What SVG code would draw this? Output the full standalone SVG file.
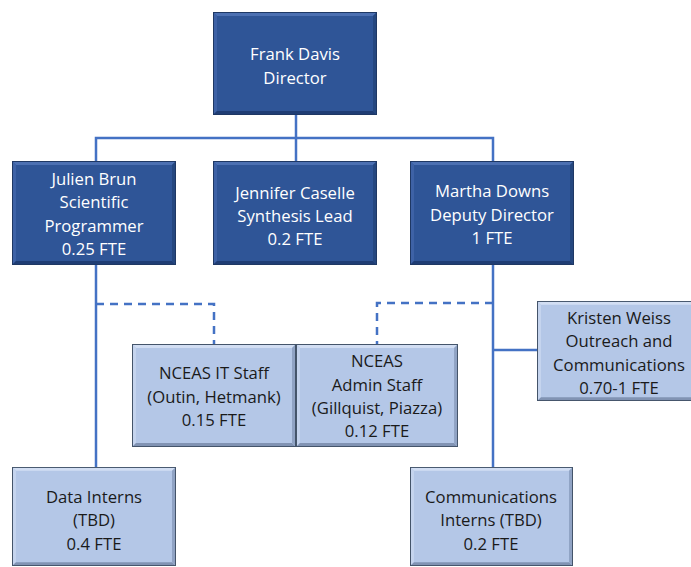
<svg xmlns="http://www.w3.org/2000/svg" xmlns:xlink="http://www.w3.org/1999/xlink" width="691" height="567" viewBox="0 0 691 567">
<style>
.ln{fill:none;stroke:#4472C4;stroke-width:2.5}
.ds{stroke-dasharray:8 6}
.tw{font-family:"Open Sans","Liberation Sans",sans-serif;font-size:16.7px;fill:#ffffff;text-anchor:middle}
.tb{font-family:"Open Sans","Liberation Sans",sans-serif;font-size:16.7px;fill:#1a1a1a;text-anchor:middle}
</style>
<defs>
<symbol id="dbox" viewBox="0 0 164 104" preserveAspectRatio="none">
<rect x="0" y="0" width="164" height="104" fill="#2F5597"/>
<polygon points="0,0 164,0 160,4 4,4" fill="#4C70B2"/>
<polygon points="0,0 4,4 4,100 0,104" fill="#3E62A6"/>
<polygon points="0,104 4,100 160,100 164,104" fill="#1F3D74"/>
<polygon points="164,0 164,104 160,100 160,4" fill="#25477F"/>
<rect x="0.5" y="0.5" width="163" height="103" fill="none" stroke="#1F3864" stroke-width="1"/>
</symbol>
<symbol id="lbox" viewBox="0 0 164 104" preserveAspectRatio="none">
<rect x="0" y="0" width="164" height="104" fill="#B4C7E7"/>
<polygon points="0,0 164,0 160,4 4,4" fill="#D2DEF3"/>
<polygon points="0,0 4,4 4,100 0,104" fill="#C5D4EE"/>
<polygon points="0,104 4,100 160,100 164,104" fill="#8193B3"/>
<polygon points="164,0 164,104 160,100 160,4" fill="#90A3C4"/>
<rect x="0.5" y="0.5" width="163" height="103" fill="none" stroke="#44546A" stroke-width="1"/>
</symbol>
</defs>
<g id="connectors">
<path class="ln" d="M296 115 V161"/>
<path class="ln" d="M96 161 V138 H493 V161"/>
<path class="ln" d="M96 265 V467"/>
<path class="ln ds" d="M96 304 H214 V344"/>
<path class="ln" d="M493 265 V467"/>
<path class="ln ds" d="M493 303 H377 V344"/>
<path class="ln" d="M493 350 H537"/>
</g>
<g id="frank">
<use xlink:href="#dbox" x="213" y="12" width="164" height="103"/>
<text class="tw" x="295" y="60">Frank Davis</text>
<text class="tw" x="295" y="84">Director</text>
</g>
<g id="julien">
<use xlink:href="#dbox" x="12" y="161" width="164" height="104"/>
<text class="tw" x="94" y="185">Julien Brun</text>
<text class="tw" x="94" y="208">Scientific</text>
<text class="tw" x="94" y="232">Programmer</text>
<text class="tw" x="94" y="255">0.25 FTE</text>
</g>
<g id="jennifer">
<use xlink:href="#dbox" x="213" y="161" width="164" height="104"/>
<text class="tw" x="295" y="199">Jennifer Caselle</text>
<text class="tw" x="295" y="222">Synthesis Lead</text>
<text class="tw" x="295" y="245">0.2 FTE</text>
</g>
<g id="martha">
<use xlink:href="#dbox" x="410" y="161" width="164" height="104"/>
<text class="tw" x="492" y="197">Martha Downs</text>
<text class="tw" x="492" y="221">Deputy Director</text>
<text class="tw" x="492" y="244">1 FTE</text>
</g>
<g id="it-staff">
<use xlink:href="#lbox" x="132" y="344" width="164" height="103"/>
<text class="tb" x="214" y="379">NCEAS IT Staff</text>
<text class="tb" x="214" y="403">(Outin, Hetmank)</text>
<text class="tb" x="214" y="426">0.15 FTE</text>
</g>
<g id="admin-staff">
<use xlink:href="#lbox" x="296" y="344" width="162" height="103"/>
<text class="tb" x="377" y="367">NCEAS</text>
<text class="tb" x="377" y="391">Admin Staff</text>
<text class="tb" x="377" y="414">(Gillquist, Piazza)</text>
<text class="tb" x="377" y="437">0.12 FTE</text>
</g>
<g id="kristen">
<use xlink:href="#lbox" x="537" y="301" width="164" height="100"/>
<text class="tb" x="619" y="324">Kristen Weiss</text>
<text class="tb" x="619" y="347">Outreach and</text>
<text class="tb" x="619" y="371">Communications</text>
<text class="tb" x="619" y="394">0.70-1 FTE</text>
</g>
<g id="data-interns">
<use xlink:href="#lbox" x="12" y="467" width="164" height="99"/>
<text class="tb" x="94" y="503">Data Interns</text>
<text class="tb" x="94" y="526">(TBD)</text>
<text class="tb" x="94" y="550">0.4 FTE</text>
</g>
<g id="comm-interns">
<use xlink:href="#lbox" x="410" y="467" width="163" height="99"/>
<text class="tb" x="491" y="503">Communications</text>
<text class="tb" x="491" y="526">Interns (TBD)</text>
<text class="tb" x="491" y="550">0.2 FTE</text>
</g>
</svg>
